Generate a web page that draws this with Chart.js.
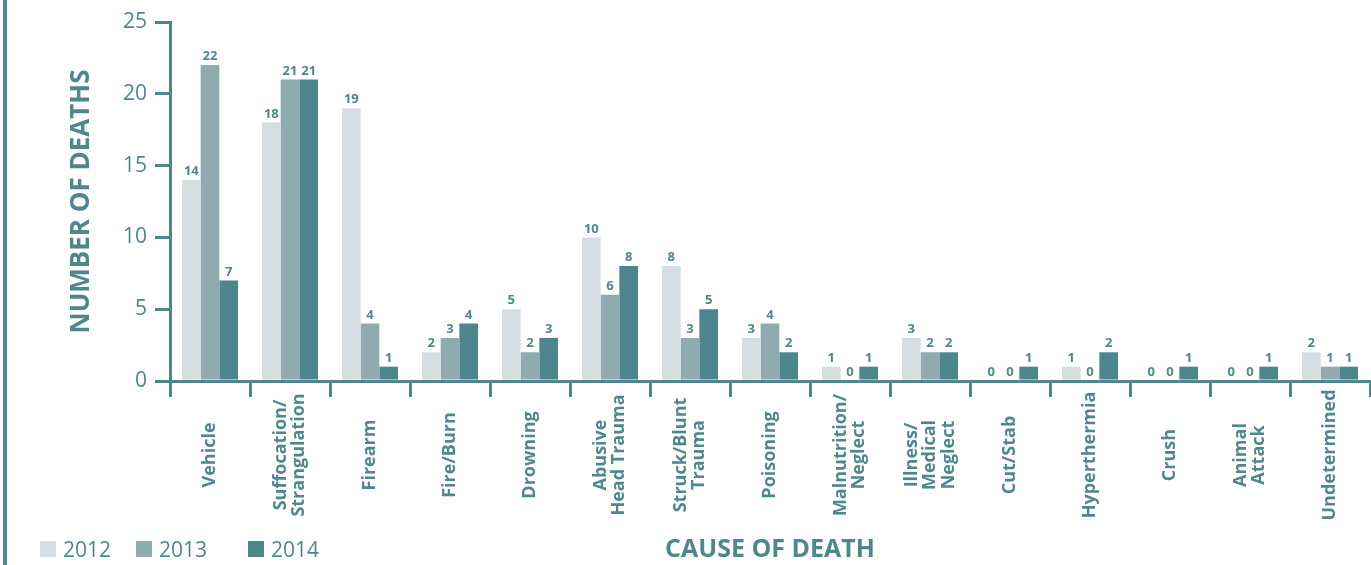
<!DOCTYPE html>
<html>
<head>
<meta charset="utf-8">
<script src="https://cdn.jsdelivr.net/npm/chart.js@4.4.1/dist/chart.umd.min.js"></script>
<style>
  html, body { margin: 0; padding: 0; background: #ffffff; }
  #wrap { position: relative; width: 1371px; height: 565px; overflow: hidden; }
  #leftbar { position: absolute; left: 3px; top: 0; width: 4px; height: 565px; background: #4e878e; }
  #legend { position: absolute; left: 0; top: 0; width: 1371px; height: 565px; pointer-events: none; font-family: "Open Sans", sans-serif; }
  .lg-box { position: absolute; width: 16px; height: 16px; top: 541px; }
  .lg-txt { position: absolute; top: 535px; font-size: 21px; line-height: 28px; color: #4e878e; }
</style>
</head>
<body>
<div id="wrap">
  <canvas id="c" width="1371" height="565"></canvas>
  <div id="leftbar"></div>
  <div id="legend"></div>
</div>
<script>
// ---- data ----
const categories = [
  ["Vehicle"],
  ["Suffocation/", "Strangulation"],
  ["Firearm"],
  ["Fire/Burn"],
  ["Drowning"],
  ["Abusive", "Head Trauma"],
  ["Struck/Blunt", "Trauma"],
  ["Poisoning"],
  ["Malnutrition/", "Neglect"],
  ["Illness/", "Medical", "Neglect"],
  ["Cut/Stab"],
  ["Hyperthermia"],
  ["Crush"],
  ["Animal", "Attack"],
  ["Undetermined"]
];
const years = ["2012", "2013", "2014"];
const deaths2012 = [14, 18, 19, 2, 5, 10, 8, 3, 1, 3, 0, 1, 0, 0, 2];
const deaths2013 = [22, 21, 4, 3, 2, 6, 3, 4, 0, 2, 0, 0, 0, 0, 1];
const deaths2014 = [7, 21, 1, 4, 3, 8, 5, 2, 1, 2, 1, 2, 1, 1, 1];
const yTicks = [0, 5, 10, 15, 20, 25];
const yTitle = "NUMBER OF DEATHS";
const xTitle = "CAUSE OF DEATH";

// ---- styles ----
const TEAL = "#4e878e";
const seriesColors = ["#d5dde0", "#90abb0", "#4d878d"];
const FONT = "'Open Sans', sans-serif";

const seriesData = [deaths2012, deaths2013, deaths2014];
const datasets = years.map((y, i) => ({
  label: y,
  data: seriesData[i],
  backgroundColor: seriesColors[i],
  borderWidth: 0,
  categoryPercentage: 0.7,
  barPercentage: 1.0
}));

const valueLabels = {
  id: "valueLabels",
  afterDatasetsDraw(chart) {
    const ctx = chart.ctx;
    ctx.save();
    ctx.fillStyle = TEAL;
    ctx.font = "bold 13px " + FONT;
    ctx.textAlign = "center";
    ctx.textBaseline = "bottom";
    chart.data.datasets.forEach((ds, di) => {
      const meta = chart.getDatasetMeta(di);
      meta.data.forEach((el, i) => {
        ctx.fillText(String(ds.data[i]), el.x, el.y - 2);
      });
    });
    ctx.restore();
  }
};

const xLabels = {
  id: "xLabels",
  afterDraw(chart) {
    const ctx = chart.ctx;
    const xs = chart.scales.x;
    const lh = 18.5;
    const cy = 455;
    ctx.save();
    ctx.fillStyle = TEAL;
    ctx.font = "bold 18px " + FONT;
    ctx.textAlign = "center";
    ctx.textBaseline = "middle";
    chart.data.labels.forEach((lines, i) => {
      const cx = xs.getPixelForValue(i);
      const n = lines.length;
      lines.forEach((t, j) => {
        ctx.save();
        ctx.translate(cx + (j - (n - 1) / 2) * lh, cy);
        ctx.rotate(-Math.PI / 2);
        ctx.fillText(t, 0, 0);
        ctx.restore();
      });
    });
    ctx.restore();
  }
};

const chart = new Chart(document.getElementById("c"), {
  type: "bar",
  data: { labels: categories, datasets: datasets },
  options: {
    responsive: false,
    animation: false,
    layout: { padding: { left: 0, right: 1, top: 22, bottom: 0 } },
    plugins: {
      legend: { display: false },
      tooltip: { enabled: false }
    },
    scales: {
      x: {
        offset: true,
        grid: {
          offset: true,
          drawOnChartArea: false,
          drawTicks: true,
          tickLength: 16,
          color: TEAL,
          lineWidth: 3
        },
        border: { display: true, color: TEAL, width: 3 },
        ticks: { display: false },
        title: {
          display: true,
          text: xTitle,
          color: TEAL,
          font: { family: FONT, size: 25, weight: "bold" },
          padding: { top: 0, bottom: 0 }
        },
        afterFit(scale) { scale.height = 184; }
      },
      y: {
        min: 0,
        max: 25,
        afterBuildTicks(scale) { scale.ticks = yTicks.map(v => ({ value: v })); },
        grid: {
          drawOnChartArea: false,
          drawTicks: true,
          tickLength: 15,
          color: TEAL,
          lineWidth: 3
        },
        border: { display: true, color: TEAL, width: 3 },
        ticks: {
          color: TEAL,
          font: { family: FONT, size: 21 },
          padding: 8
        },
        title: {
          display: true,
          text: yTitle,
          color: TEAL,
          font: { family: FONT, size: 26, weight: "bold" },
          padding: { top: 66, bottom: 0 }
        },
        afterFit(scale) { scale.width = 170; }
      }
    }
  },
  plugins: [valueLabels, xLabels]
});

// HTML legend built from datasets
const legend = document.getElementById("legend");
const boxLefts = [40, 136, 248];
chart.data.datasets.forEach((ds, i) => {
  const b = document.createElement("div");
  b.className = "lg-box";
  b.style.left = boxLefts[i] + "px";
  b.style.background = ds.backgroundColor;
  legend.appendChild(b);
  const t = document.createElement("div");
  t.className = "lg-txt";
  t.style.left = (boxLefts[i] + 23) + "px";
  t.textContent = ds.label;
  legend.appendChild(t);
});
</script>
</body>
</html>
